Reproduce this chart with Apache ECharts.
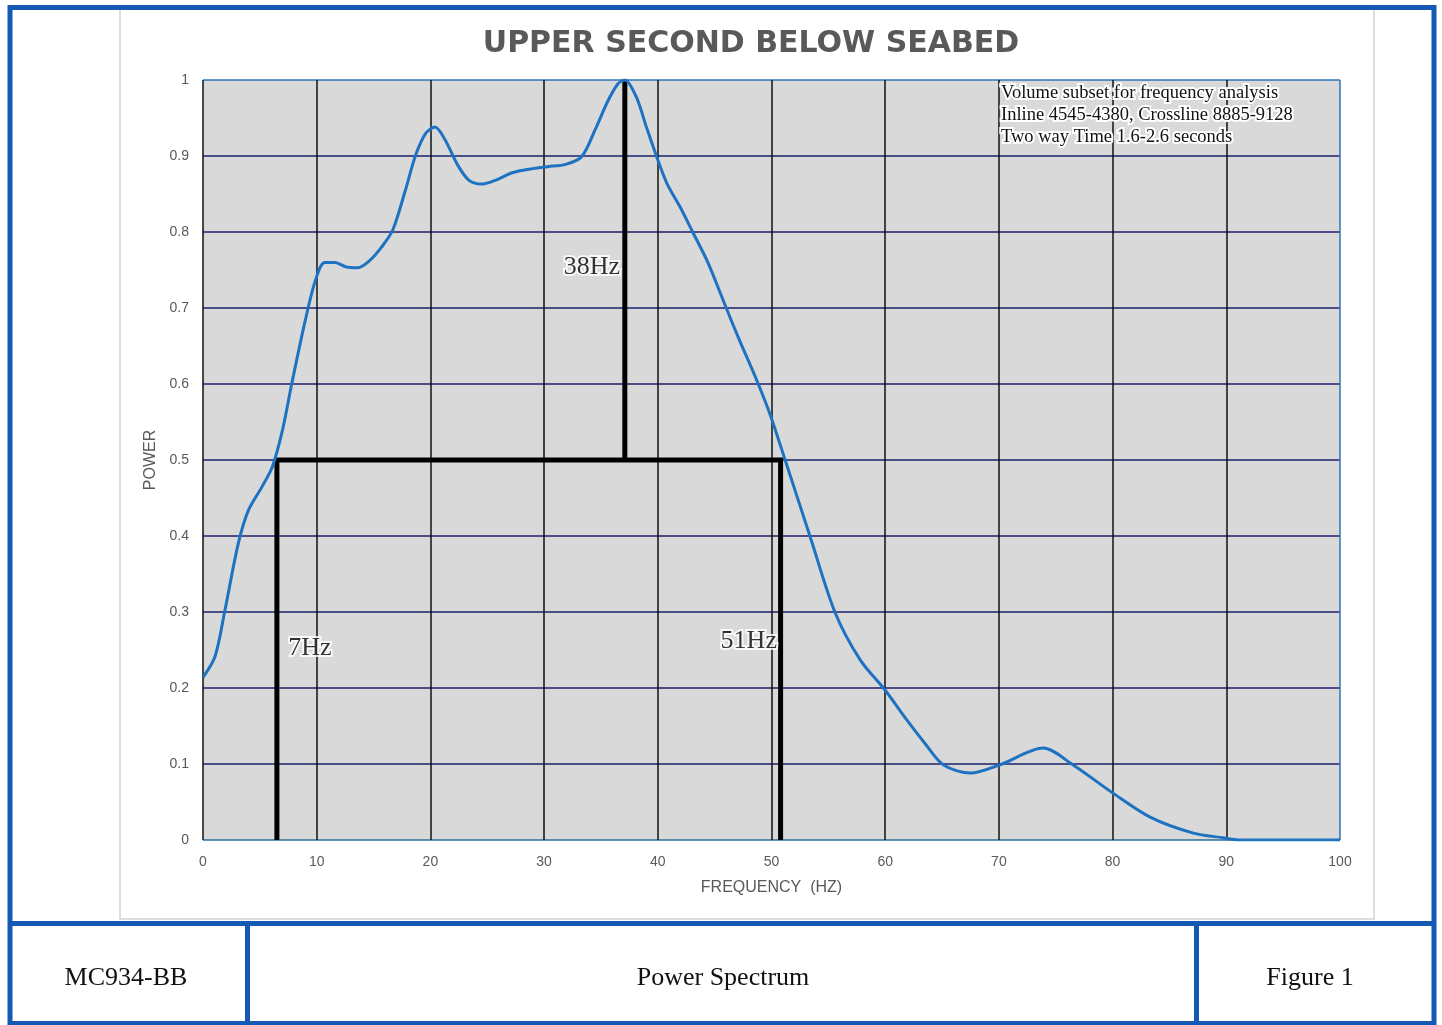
<!DOCTYPE html>
<html>
<head>
<meta charset="utf-8">
<script src="https://cdn.jsdelivr.net/npm/echarts@6/dist/echarts.min.js"></script>
<style>
html,body{margin:0;padding:0;background:#fff;}
#chart{width:1442px;height:1025px;}
</style>
</head>
<body>
<div id="chart"></div>
<script>
// ---- data ----
var titleText = 'UPPER SECOND BELOW SEABED';
var xAxisName = 'FREQUENCY  (HZ)';
var yAxisName = 'POWER';
var frequency = [0, 1.05, 1.9, 3.1, 4, 5.2, 6.1, 7, 7.8, 9, 9.9, 10.7, 11.6, 12.6, 13.6, 14.7, 15.7, 16.7, 17.8, 18.7, 19.6, 20.4, 21.3, 22.4, 23.4, 24.5, 25.7, 27.2, 28.8, 30.3, 31.9, 33.3, 34.5, 35.6, 36.5, 37.1, 38.1, 39.0, 39.9, 40.8, 42.1, 43.1, 44.4, 46.1, 47.2, 48.7, 49.9, 51.2, 53.4, 55.6, 57.8, 60, 61.9, 63.5, 65.1, 67.5, 70.1, 73.9, 76.5, 80, 83.3, 87.1, 89.7, 91.2, 95, 100];
var power = [0.214, 0.241, 0.3, 0.39, 0.434, 0.465, 0.491, 0.54, 0.6, 0.684, 0.737, 0.76, 0.76, 0.754, 0.753, 0.763, 0.78, 0.803, 0.855, 0.901, 0.93, 0.938, 0.921, 0.888, 0.868, 0.863, 0.868, 0.878, 0.883, 0.886, 0.889, 0.899, 0.935, 0.972, 0.995, 1.0, 0.978, 0.938, 0.899, 0.864, 0.829, 0.799, 0.76, 0.697, 0.657, 0.605, 0.559, 0.5, 0.399, 0.299, 0.237, 0.197, 0.158, 0.127, 0.099, 0.088, 0.099, 0.121, 0.099, 0.062, 0.030, 0.009, 0.003, 0.0, 0.0, 0.0];
var bandX = [6.5, 6.5, 50.8, 50.8];
var bandY = [0, 0.5, 0.5, 0];
var peakX = [37.1, 37.1];
var peakY = [0.5, 1.0];
var markerLabels = ['7Hz', '38Hz', '51Hz'];
var markerX = [9.4, 34.2, 48.0];
var markerY = [0.253, 0.754, 0.262];
var noteLines = ['Volume subset for frequency analysis', 'Inline 4545-4380, Crossline 8885-9128', 'Two way Time 1.6-2.6 seconds'];
var footerTexts = ['MC934-BB', 'Power Spectrum', 'Figure 1'];

function zip(a, b) { return a.map(function (v, i) { return [v, b[i]]; }); }

var chart = echarts.init(document.getElementById('chart'));
var frameBlue = '#1459b3';
var navy = '#1d1f6a';
var yLineColors = ['#2e6d9e', navy, navy, navy, navy, navy, navy, navy, navy, navy, '#2e75b6'];
var xLineColors = ['#111', '#111', '#111', '#111', '#111', '#111', '#111', '#111', '#111', '#111', '#2e75b6'];

var option = {
  backgroundColor: '#fff',
  animation: false,
  title: {
    text: titleText,
    left: 746, top: 24, textAlign: 'center',
    textStyle: { fontFamily: 'DejaVu Sans', fontWeight: 'bold', fontSize: 30, color: '#595959' }
  },
  grid: {
    left: 203, right: 102, top: 80, bottom: 185,
    show: true, backgroundColor: '#d9d9d9', borderWidth: 0
  },
  xAxis: {
    type: 'value', min: 0, max: 100, interval: 10,
    name: xAxisName, nameLocation: 'middle', nameGap: 40,
    nameTextStyle: { fontFamily: 'Liberation Sans', fontSize: 16, color: '#595959' },
    axisLine: { show: false }, axisTick: { show: false },
    axisLabel: { margin: 15, fontFamily: 'Liberation Sans', fontSize: 14, color: '#595959' },
    splitLine: { show: true, lineStyle: { color: xLineColors, width: 1.5 } }
  },
  yAxis: {
    type: 'value', min: 0, max: 1, interval: 0.1,
    name: yAxisName, nameLocation: 'middle', nameGap: 44,
    nameTextStyle: { fontFamily: 'Liberation Sans', fontSize: 16, color: '#595959' },
    axisLine: { show: false }, axisTick: { show: false },
    axisLabel: { margin: 14, fontFamily: 'Liberation Sans', fontSize: 14, color: '#595959' },
    splitLine: { show: true, lineStyle: { color: yLineColors, width: 1.5 } }
  },
  series: [
    {
      type: 'line', data: zip(bandX, bandY), symbol: 'none', z: 3,
      lineStyle: { color: '#000', width: 5, cap: 'butt', join: 'miter' }
    },
    {
      type: 'line', data: zip(peakX, peakY), symbol: 'none', z: 3,
      lineStyle: { color: '#000', width: 5, cap: 'butt' }
    },
    {
      type: 'line', data: zip(frequency, power), symbol: 'none', smooth: 0.3, z: 4,
      lineStyle: { color: '#1d72c2', width: 3 }
    },
    {
      type: 'scatter', symbolSize: 0, z: 5,
      data: markerLabels.map(function (t, i) { return { name: t, value: [markerX[i], markerY[i]] }; }),
      label: {
        show: true, position: 'inside', formatter: '{b}',
        fontFamily: 'Liberation Serif', fontSize: 26, color: '#000',
        textBorderColor: '#fff', textBorderWidth: 4
      }
    }
  ],
  graphic: [
    // inner panel
    { type: 'rect', z: -10, silent: true, shape: { x: 120, y: 9, width: 1254, height: 910 },
      style: { fill: '#fff', stroke: '#d4d4d4', lineWidth: 1.5 } },
    // outer frame
    { type: 'rect', z: 100, silent: true, shape: { x: 10, y: 7.5, width: 1424, height: 1016 },
      style: { fill: 'none', stroke: frameBlue, lineWidth: 5 } },
    { type: 'line', z: 100, silent: true, shape: { x1: 10, y1: 923.5, x2: 1434, y2: 923.5 },
      style: { stroke: frameBlue, lineWidth: 5 } },
    { type: 'line', z: 100, silent: true, shape: { x1: 247.5, y1: 923, x2: 247.5, y2: 1025 },
      style: { stroke: frameBlue, lineWidth: 5 } },
    { type: 'line', z: 100, silent: true, shape: { x1: 1196.5, y1: 923, x2: 1196.5, y2: 1025 },
      style: { stroke: frameBlue, lineWidth: 5 } },
    // footer texts
    { type: 'text', z: 100, silent: true, x: 126, y: 978,
      style: { text: footerTexts[0], font: '26px "Liberation Serif"', fill: '#111', textAlign: 'center', textVerticalAlign: 'middle' } },
    { type: 'text', z: 100, silent: true, x: 723, y: 978,
      style: { text: footerTexts[1], font: '26px "Liberation Serif"', fill: '#111', textAlign: 'center', textVerticalAlign: 'middle' } },
    { type: 'text', z: 100, silent: true, x: 1310, y: 978,
      style: { text: footerTexts[2], font: '26px "Liberation Serif"', fill: '#111', textAlign: 'center', textVerticalAlign: 'middle' } },
    // note
    { type: 'text', z: 100, silent: true, x: 1001, y: 82,
      style: { text: noteLines.join('\n'), font: '18.5px "Liberation Serif"', lineHeight: 22, fill: '#111',
               stroke: '#fff', lineWidth: 4, textAlign: 'left' } }
  ]
};
chart.setOption(option);
</script>
</body>
</html>
